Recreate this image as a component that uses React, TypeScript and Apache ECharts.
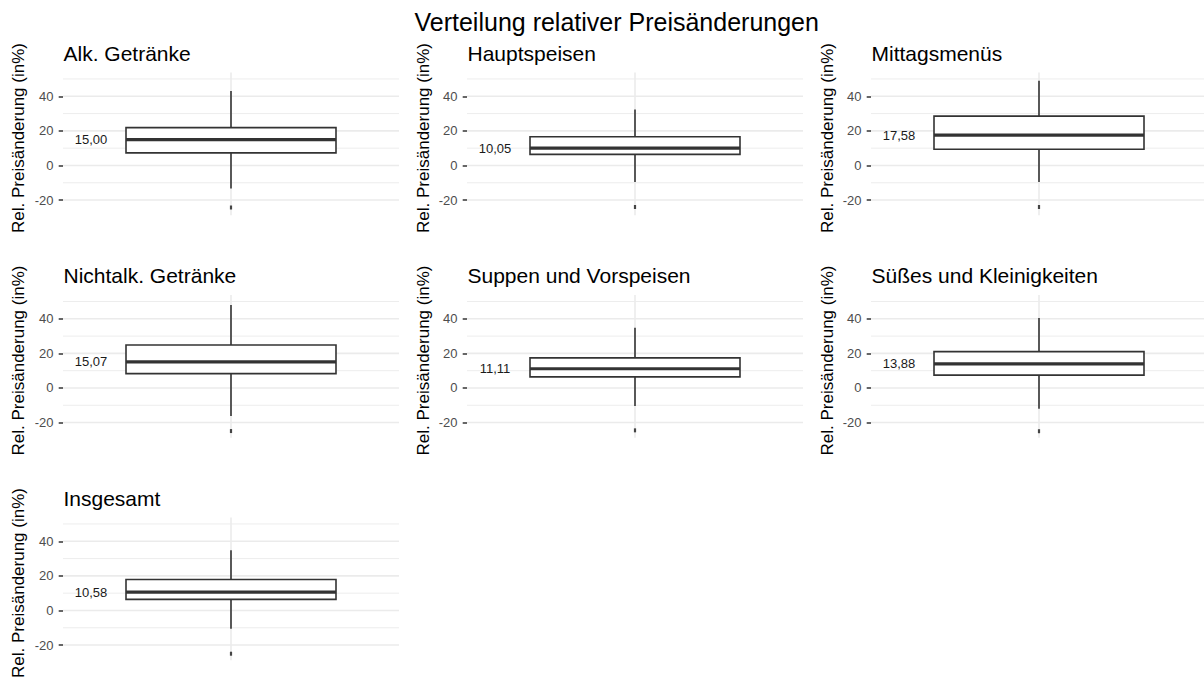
import React, { useEffect, useRef } from "react";
import * as echarts from "echarts";

const mainTitle = "Verteilung relativer Preisänderungen";
const yAxisTitle = "Rel. Preisänderung (in%)";

const categories = [
  "Alk. Getränke",
  "Hauptspeisen",
  "Mittagsmenüs",
  "Nichtalk. Getränke",
  "Suppen und Vorspeisen",
  "Süßes und Kleinigkeiten",
  "Insgesamt",
];
const whiskerLow = [-13.3, -9.5, -9.5, -16.2, -10.4, -12.0, -10.5];
const q1 = [7.3, 6.4, 9.4, 8.3, 6.4, 7.4, 6.4];
const median = [15.0, 10.05, 17.58, 15.07, 11.11, 13.88, 10.58];
const q3 = [21.9, 16.6, 28.5, 24.8, 17.4, 21.0, 17.9];
const whiskerHigh = [43.0, 32.4, 49.0, 47.9, 34.8, 40.4, 34.8];
const outlier = [-24.3, -24.0, -24.0, -24.9, -24.5, -25.0, -25.0];

const yTicks = [-20, 0, 20, 40];
const yMinorBreaks = [-10, 10, 30, 50];
const yMin = -28.75;
const yMax = 53.75;

const FONT = '"Liberation Sans", Arial, Helvetica, sans-serif';
const colLeft = [63, 467, 871];
const rowTop = [72.5, 295, 517.5];
const panelW = 336;
const panelH = 142.7;
const axisTitleX = [18, 423, 827];
const axisTitleY = [138, 360.5, 583];
const panelTitleY = [53.3, 275.8, 498.3];

const fmt = (v: number) => v.toFixed(2).replace(".", ",");

export default function App() {
  const ref = useRef<HTMLDivElement>(null);
  useEffect(() => {
    if (!ref.current) return;
    const chart = echarts.init(ref.current, null, { renderer: "svg" });

    const grids: any[] = [];
    const xAxes: any[] = [];
    const yAxes: any[] = [];
    const series: any[] = [];
    const graphics: any[] = [
      {
        type: "text",
        x: 616.7,
        y: 22,
        style: { text: mainTitle, fontSize: 25, fontFamily: FONT, fill: "#000", align: "center", verticalAlign: "middle" },
      },
    ];

    categories.forEach((cat, i) => {
      const c = i % 3;
      const r = Math.floor(i / 3);
      grids.push({ left: colLeft[c], top: rowTop[r], width: panelW, height: panelH, containLabel: false, outerBoundsMode: "none" });
      xAxes.push({
        type: "category",
        gridIndex: i,
        data: [cat],
        axisLine: { show: false },
        axisTick: { show: false },
        axisLabel: { show: false },
        splitLine: { show: false },
      });
      yAxes.push({
        type: "value",
        gridIndex: i,
        min: yMin,
        max: yMax,
        axisLine: { show: false },
        axisTick: { show: true, customValues: yTicks, length: 4.3, lineStyle: { color: "#333333", width: 1.5 } },
        axisLabel: { customValues: yTicks, margin: 9.5, color: "#4d4d4d", fontSize: 13, fontFamily: FONT },
        splitLine: { show: false },
      });

      const gridData: any[] = [
        ...yTicks.map((v) => [cat, v, 1]),
        ...yMinorBreaks.map((v) => [cat, v, 0]),
        [cat, 0, 2],
      ];
      series.push({
        type: "custom",
        xAxisIndex: i,
        yAxisIndex: i,
        z: 1,
        silent: true,
        encode: { x: 0, y: 1 },
        data: gridData,
        renderItem: (params: any, api: any) => {
          const cs = params.coordSys;
          const kind = api.value(2);
          if (kind === 2) {
            const x = api.coord([api.value(0), 0])[0];
            return {
              type: "line",
              shape: { x1: x, y1: cs.y, x2: x, y2: cs.y + cs.height },
              style: { stroke: "#ebebeb", lineWidth: 1.6 },
            };
          }
          const y = api.coord([api.value(0), api.value(1)])[1];
          return {
            type: "line",
            shape: { x1: cs.x, y1: y, x2: cs.x + cs.width, y2: y },
            style: { stroke: "#ebebeb", lineWidth: kind === 1 ? 1.6 : 0.9 },
          };
        },
      });

      series.push({
        type: "custom",
        name: cat,
        xAxisIndex: i,
        yAxisIndex: i,
        z: 3,
        encode: { x: 0, y: [1, 2, 3, 4, 5] },
        data: [[cat, whiskerLow[i], q1[i], median[i], q3[i], whiskerHigh[i], outlier[i]]],
        renderItem: (params: any, api: any) => {
          const xv = api.value(0);
          const pt = (v: number) => api.coord([xv, v]);
          const band = api.size([1, 0])[0];
          const bw = band * 0.625;
          const cx = pt(0)[0];
          const yLo = pt(api.value(1))[1];
          const yQ1 = pt(api.value(2))[1];
          const yMed = pt(api.value(3))[1];
          const yQ3 = pt(api.value(4))[1];
          const yHi = pt(api.value(5))[1];
          const yOut = pt(api.value(6))[1];
          const stroke = "#333333";
          return {
            type: "group",
            children: [
              { type: "line", shape: { x1: cx, y1: yHi, x2: cx, y2: yQ3 }, style: { stroke, lineWidth: 1.6 } },
              { type: "line", shape: { x1: cx, y1: yQ1, x2: cx, y2: yLo }, style: { stroke, lineWidth: 1.6 } },
              {
                type: "rect",
                shape: { x: cx - bw / 2, y: yQ3, width: bw, height: yQ1 - yQ3 },
                style: { fill: "#ffffff", stroke, lineWidth: 1.6 },
              },
              {
                type: "line",
                shape: { x1: cx - bw / 2, y1: yMed, x2: cx + bw / 2, y2: yMed },
                style: { stroke, lineWidth: 3.2 },
              },
              {
                type: "rect",
                shape: { x: cx - 1.1, y: yOut - 2, width: 2.2, height: 4 },
                style: { fill: "#444444" },
              },
              {
                type: "text",
                x: cx - band * (0.5 / 1.2),
                y: yMed,
                style: {
                  text: fmt(median[i]),
                  fontSize: 13,
                  fontFamily: FONT,
                  fill: "#1a1a1a",
                  align: "center",
                  verticalAlign: "middle",
                },
              },
            ],
          };
        },
      });

      graphics.push({
        type: "text",
        x: colLeft[c] + 0.5,
        y: panelTitleY[r],
        style: { text: cat, fontSize: 21, fontFamily: FONT, fill: "#000", align: "left", verticalAlign: "middle" },
      });
      graphics.push({
        type: "text",
        x: axisTitleX[c],
        y: axisTitleY[r],
        rotation: Math.PI / 2,
        style: { text: yAxisTitle, fontSize: 17, fontFamily: FONT, fill: "#000", align: "center", verticalAlign: "middle" },
      });
    });

    chart.setOption({
      animation: false,
      backgroundColor: "#ffffff",
      grid: grids,
      xAxis: xAxes,
      yAxis: yAxes,
      series,
      graphic: graphics,
    });
    return () => chart.dispose();
  }, []);

  return <div ref={ref} style={{ position: "absolute", left: 0, top: 0, width: 1204, height: 679 }} />;
}
